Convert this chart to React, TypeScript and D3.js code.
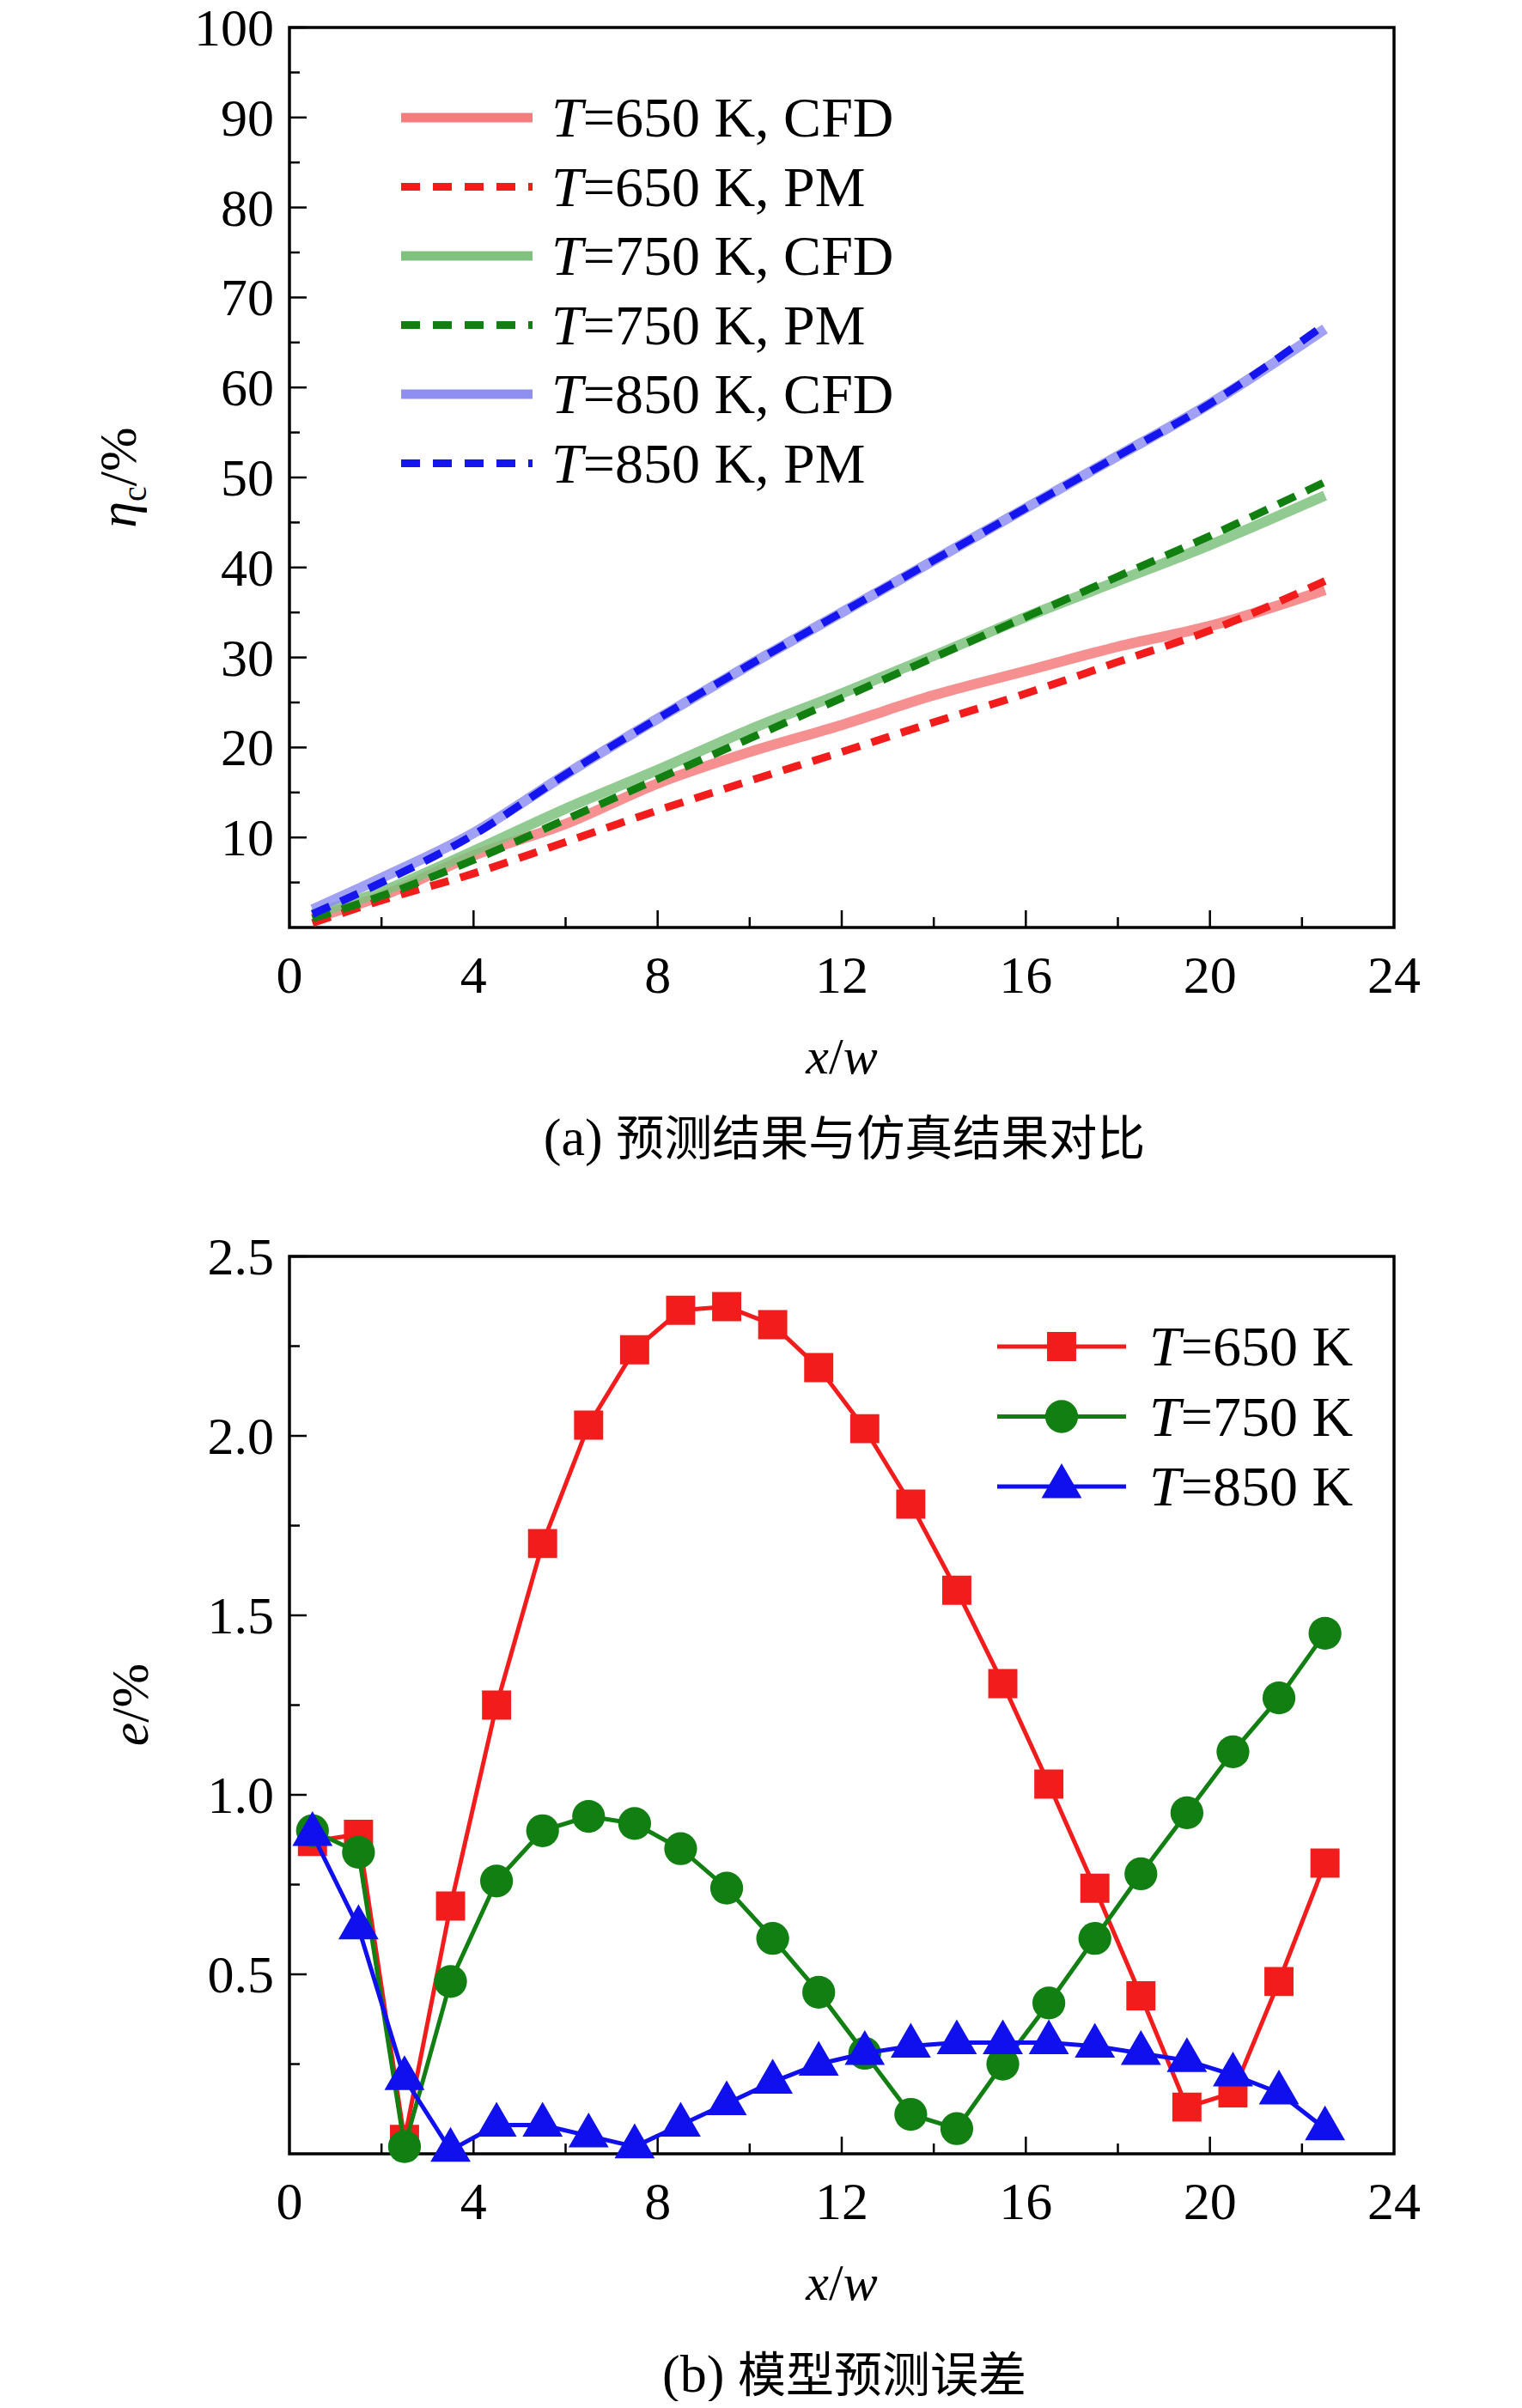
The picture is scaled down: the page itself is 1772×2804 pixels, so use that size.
import { useEffect, useRef } from "react";
import * as d3 from "d3";

// panel (a)
const xsA = [0.5, 2, 4, 6, 8, 10, 12, 14, 16, 18, 20, 22.5];
const cfd650 = [1, 3.5, 8, 11.5, 16, 19.5, 22.5, 25.8, 28.5, 31.2, 33.5, 37.5];
const pm650 = [0.5, 3, 6, 9.5, 13, 16.3, 19.5, 22.8, 26, 29.5, 33, 38.5];
const cfd750 = [1.5, 4, 8.5, 13.2, 17.5, 22, 26, 30.2, 34.5, 38.5, 42.5, 48];
const pm750 = [1, 3.5, 7.5, 12, 16.5, 21, 25.5, 30, 34.5, 39, 43.5, 49.5];
const cfd850 = [2, 5.5, 10.5, 17, 23.2, 29.2, 35, 40.8, 46.6, 52.4, 58.2, 66.5];
const pm850 = [1.5, 5, 10.3, 17, 23.2, 29.2, 35, 40.8, 46.6, 52.4, 58.2, 67];

// panel (b)
const xsB = d3.range(23).map(i => i + 0.5);
const e650 = [0.87, 0.89, 0.04, 0.69, 1.25, 1.70, 2.03, 2.24, 2.35, 2.36, 2.31, 2.19, 2.02, 1.81, 1.57, 1.31, 1.03, 0.74, 0.44, 0.13, 0.17, 0.48, 0.81];
const e750 = [0.90, 0.84, 0.02, 0.48, 0.76, 0.90, 0.94, 0.92, 0.85, 0.74, 0.60, 0.45, 0.28, 0.11, 0.07, 0.25, 0.42, 0.60, 0.78, 0.95, 1.12, 1.27, 1.45];
const e850 = [0.89, 0.63, 0.21, 0.01, 0.08, 0.08, 0.05, 0.02, 0.08, 0.14, 0.20, 0.25, 0.28, 0.30, 0.31, 0.31, 0.31, 0.30, 0.28, 0.26, 0.22, 0.17, 0.07];

const xTicks = [0, 4, 8, 12, 16, 20, 24];
const yTicksA = [10, 20, 30, 40, 50, 60, 70, 80, 90, 100];
const yTicksB = [0.5, 1.0, 1.5, 2.0, 2.5];

const W = 1772, H = 2804;
const L = 337, R = 1623;
const FONT = "'Liberation Serif', 'Times New Roman', serif";
const CJK = "'Noto Sans CJK SC', serif";

export default function App() {
  const ref = useRef<SVGSVGElement>(null);
  useEffect(() => {
    const svg = d3.select(ref.current!);
    svg.selectAll("*").remove();
    svg.append("rect").attr("width", W).attr("height", H).attr("fill", "white");
    const x = d3.scaleLinear().domain([0, 24]).range([L, R]);

    function frame(top: number, bot: number, y: d3.ScaleLinear<number, number>, ticks: number[], minor: number[], fmt: (v: number) => string) {
      const g = svg.append("g");
      g.append("rect").attr("x", L).attr("y", top).attr("width", R - L).attr("height", bot - top)
        .attr("fill", "none").attr("stroke", "black").attr("stroke-width", 3.5);
      for (const t of d3.range(2, 24, 2)) {
        const big = t % 4 === 0;
        g.append("line").attr("x1", x(t)).attr("x2", x(t)).attr("y1", bot).attr("y2", bot - (big ? 20 : 12))
          .attr("stroke", "black").attr("stroke-width", 2.5);
      }
      for (const t of xTicks)
        g.append("text").attr("x", x(t)).attr("y", bot + 76).attr("text-anchor", "middle")
          .attr("font-family", FONT).attr("font-size", 62).text(t);
      for (const t of minor)
        g.append("line").attr("x1", L).attr("x2", L + 12).attr("y1", y(t)).attr("y2", y(t))
          .attr("stroke", "black").attr("stroke-width", 2.5);
      for (const t of ticks) {
        g.append("line").attr("x1", L).attr("x2", L + 20).attr("y1", y(t)).attr("y2", y(t))
          .attr("stroke", "black").attr("stroke-width", 2.5);
        g.append("text").attr("x", L - 18).attr("y", y(t) + 21).attr("text-anchor", "end")
          .attr("font-family", FONT).attr("font-size", 62).text(fmt(t));
      }
      const xl = g.append("text").attr("x", (L + R) / 2).attr("y", bot + 170).attr("text-anchor", "middle")
        .attr("font-family", FONT).attr("font-size", 60).attr("font-style", "italic");
      xl.append("tspan").text("x");
      xl.append("tspan").attr("font-style", "normal").text("/");
      xl.append("tspan").text("w");
    }

    // ---- panel (a)
    const yA = d3.scaleLinear().domain([0, 100]).range([1080, 32]);
    frame(32, 1080, yA, yTicksA, d3.range(5, 100, 10), v => String(v));
    const lineA = (ys: number[]) => d3.line<number>().x((_, i) => x(xsA[i])).y(v => yA(v)).curve(d3.curveMonotoneX)(ys);
    const seriesA = [
      { ys: cfd650, c: "#f47c7c", dash: false },
      { ys: cfd750, c: "#7fc27f", dash: false },
      { ys: cfd850, c: "#8f8ff2", dash: false },
      { ys: pm650, c: "#f21c1c", dash: true },
      { ys: pm750, c: "#118011", dash: true },
      { ys: pm850, c: "#1515f0", dash: true },
    ];
    for (const s of seriesA) {
      svg.append("path").attr("d", lineA(s.ys)!).attr("fill", "none").attr("stroke", s.c)
        .attr("stroke-width", s.dash ? 9 : 12).attr("opacity", s.dash ? 1 : 0.85)
        .attr("stroke-dasharray", s.dash ? "22,14" : null);
    }
    const legA = [
      { c: "#f47c7c", dash: false, t: "650", k: "CFD" },
      { c: "#f21c1c", dash: true, t: "650", k: "PM" },
      { c: "#7fc27f", dash: false, t: "750", k: "CFD" },
      { c: "#118011", dash: true, t: "750", k: "PM" },
      { c: "#8f8ff2", dash: false, t: "850", k: "CFD" },
      { c: "#1515f0", dash: true, t: "850", k: "PM" },
    ];
    legA.forEach((d, i) => {
      const yy = 137 + i * 80.5;
      svg.append("line").attr("x1", 467).attr("x2", 620).attr("y1", yy).attr("y2", yy)
        .attr("stroke", d.c).attr("stroke-width", d.dash ? 9 : 11)
        .attr("stroke-dasharray", d.dash ? "22,15" : null);
      const t = svg.append("text").attr("x", 642).attr("y", yy + 22).attr("font-family", FONT).attr("font-size", 66);
      t.append("tspan").attr("font-style", "italic").text("T");
      t.append("tspan").text(`=${d.t} K, ${d.k}`);
    });
    const ya = svg.append("text").attr("transform", `translate(158,556) rotate(-90)`).attr("text-anchor", "middle")
      .attr("font-family", FONT).attr("font-size", 62);
    ya.append("tspan").attr("font-style", "italic").text("η");
    ya.append("tspan").attr("font-size", 40).attr("dy", 12).text("c");
    ya.append("tspan").attr("dy", -12).text("/%");
    svg.append("text").attr("x", 983).attr("y", 1345).attr("text-anchor", "middle")
      .attr("font-family", `${FONT}`).attr("font-size", 62)
      .call(t => { t.append("tspan").text("(a) "); t.append("tspan").attr("font-family", CJK).attr("font-size", 56).text("预测结果与仿真结果对比"); });

    // ---- panel (b)
    const yB = d3.scaleLinear().domain([0, 2.5]).range([2508, 1463]);
    frame(1463, 2508, yB, yTicksB, d3.range(0.25, 2.5, 0.5), v => v.toFixed(1));
    const seriesB = [
      { ys: e650, c: "#f21c1c", m: "square" },
      { ys: e750, c: "#117f11", m: "circle" },
      { ys: e850, c: "#1010ee", m: "triangle" },
    ];
    const sym = (m: string) => m === "square" ? d3.symbolSquare : m === "circle" ? d3.symbolCircle : d3.symbolTriangle;
    const size = (m: string) => m === "triangle" ? 950 : 1150;
    for (const s of seriesB) {
      const ln = d3.line<number>().x((_, i) => x(xsB[i])).y(v => yB(v));
      svg.append("path").attr("d", ln(s.ys)!).attr("fill", "none").attr("stroke", s.c).attr("stroke-width", 5);
      svg.append("g").selectAll("path").data(s.ys).enter().append("path")
        .attr("transform", (v, i) => `translate(${x(xsB[i])},${yB(v)})`)
        .attr("d", d3.symbol().type(sym(s.m)).size(size(s.m))())
        .attr("fill", s.c);
    }
    seriesB.forEach((s, i) => {
      const yy = 1568 + i * 81.5;
      svg.append("line").attr("x1", 1161).attr("x2", 1311).attr("y1", yy).attr("y2", yy).attr("stroke", s.c).attr("stroke-width", 5);
      svg.append("path").attr("transform", `translate(1236,${yy})`)
        .attr("d", d3.symbol().type(sym(s.m)).size(size(s.m))()).attr("fill", s.c);
      const t = svg.append("text").attr("x", 1338).attr("y", yy + 22).attr("font-family", FONT).attr("font-size", 66);
      t.append("tspan").attr("font-style", "italic").text("T");
      t.append("tspan").text(`=${["650", "750", "850"][i]} K`);
    });
    const yb = svg.append("text").attr("transform", `translate(172,1985) rotate(-90)`).attr("text-anchor", "middle")
      .attr("font-family", FONT).attr("font-size", 62);
    yb.append("tspan").attr("font-style", "italic").text("e");
    yb.append("tspan").text("/%");
    svg.append("text").attr("x", 983).attr("y", 2785).attr("text-anchor", "middle")
      .attr("font-family", FONT).attr("font-size", 62)
      .call(t => { t.append("tspan").text("(b) "); t.append("tspan").attr("font-family", CJK).attr("font-size", 56).text("模型预测误差"); });
  }, []);
  return <svg ref={ref} width={W} height={H} style={{ display: "block", margin: -8 }} />;
}
